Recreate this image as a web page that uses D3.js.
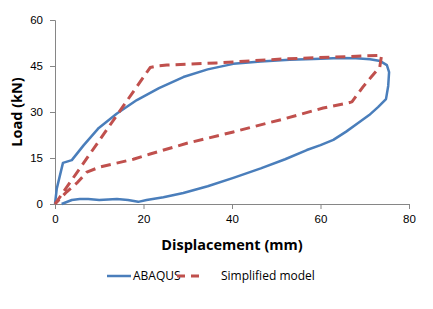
<!DOCTYPE html>
<html>
<head>
<meta charset="utf-8">
<script src="https://cdn.jsdelivr.net/npm/d3@7"></script>
<style>
  body { margin: 0; background: #fff; }
  svg { font-family: "Open Sans", "Liberation Sans", sans-serif; }
</style>
</head>
<body>
<div id="chart"></div>
<script>
// ABAQUS hysteresis loop (displacement mm, load kN)
const abaqusX = [0, 0.4, 1.8, 3.8, 6.5, 9.9, 14, 18.5, 23.5, 29, 34.5, 40.3, 46.5, 53, 58.5, 64.4, 68, 71.2, 73.5, 75, 75.5, 75.3, 74.8, 73, 71, 68.5, 65.8, 62.9, 60, 56.9, 52, 46.5, 40.3, 34.5, 29, 24.5, 20.7, 18.8, 16.5, 14, 10, 7.5, 5.6, 3.8, 1.5];
const abaqusY = [0, 5, 13.4, 14.3, 19.2, 24.8, 29.5, 33.9, 37.8, 41.4, 43.9, 45.7, 46.5, 47, 47.3, 47.6, 47.5, 47.2, 46.6, 45.3, 43, 38.5, 34.2, 31.6, 29, 26.4, 23.6, 20.9, 19.2, 17.6, 14.6, 11.6, 8.5, 5.8, 3.6, 2.2, 1.3, 0.7, 1.3, 1.6, 1.3, 1.6, 1.6, 1.3, 0];

// Simplified model loop
const simpX = [0, 21.5, 23.5, 25.3, 36.5, 51.6, 62.9, 73.8, 73.4, 71.5, 69.6, 67.1, 66, 60.6, 51.6, 40.3, 29.8, 21.5, 17.7, 10.2, 7.2, 4.9, 2.6, 0];
const simpY = [0, 44.5, 45.1, 45.3, 46, 47.3, 47.9, 48.5, 44.7, 41.5, 38.2, 33.3, 32.9, 31.3, 27.7, 23.5, 19.8, 16.3, 14.6, 12.1, 10.4, 6.8, 3.9, 0];

const xTicks = [0, 20, 40, 60, 80];
const yTicks = [0, 15, 30, 45, 60];

const seriesNames = ["ABAQUS", "Simplified model"];
const colors = ["#4A7EBB", "#C0504D"];

const width = 433, height = 309;
const margin = {left: 55, right: 24, top: 20, bottom: 105};

const scaleX = d3.scaleLinear()
    .domain([0, 80])
    .range([margin.left, width - margin.right]);

const scaleY = d3.scaleLinear()
    .domain([0, 60])
    .range([height - margin.bottom, margin.top]);

const svg = d3.select("#chart")
    .append("svg")
    .attr("width", width)
    .attr("height", height);

const xAxis = d3.axisBottom(scaleX).tickValues(xTicks).tickSize(5).tickPadding(6);
const yAxis = d3.axisLeft(scaleY).tickValues(yTicks).tickSize(5).tickPadding(7);

const gx = svg.append("g")
    .attr("transform", "translate(0," + scaleY(0) + ")")
    .call(xAxis);
const gy = svg.append("g")
    .attr("transform", "translate(" + scaleX(0) + ",0)")
    .call(yAxis);

[gx, gy].forEach(g => {
    g.select(".domain").attr("stroke", "#868686");
    g.selectAll(".tick line").attr("stroke", "#868686");
    g.selectAll(".tick text").attr("fill", "#000").attr("font-size", "11.5px");
});

const line = d3.line()
    .x(d => scaleX(d[0]))
    .y(d => scaleY(d[1]));

const abaqus = abaqusX.map((x, i) => [x, abaqusY[i]]);
const simp = simpX.map((x, i) => [x, simpY[i]]);

svg.append("path")
    .datum(abaqus)
    .attr("d", line)
    .attr("fill", "none")
    .attr("stroke", colors[0])
    .attr("stroke-width", 2.5)
    .attr("stroke-linejoin", "round");

svg.append("path")
    .datum(simp)
    .attr("d", line)
    .attr("fill", "none")
    .attr("stroke", colors[1])
    .attr("stroke-width", 3)
    .attr("stroke-dasharray", "10,6")
    .attr("stroke-linejoin", "round");

// axis titles
svg.append("text")
    .attr("x", (scaleX(0) + scaleX(80)) / 2)
    .attr("y", 250)
    .attr("text-anchor", "middle")
    .attr("font-weight", "bold")
    .attr("font-size", "14.5px")
    .text("Displacement (mm)");

svg.append("text")
    .attr("transform", "translate(22," + scaleY(30) + ") rotate(-90)")
    .attr("text-anchor", "middle")
    .attr("font-weight", "bold")
    .attr("font-size", "14.5px")
    .text("Load (kN)");

// legend
const legend = svg.append("g").attr("transform", "translate(0,276)");
legend.append("line")
    .attr("x1", 107).attr("x2", 131).attr("y1", 0).attr("y2", 0)
    .attr("stroke", colors[0]).attr("stroke-width", 2.5);
legend.append("text")
    .attr("x", 133).attr("y", 4).attr("font-size", "12px")
    .text(seriesNames[0]);
legend.append("line")
    .attr("x1", 177).attr("x2", 201).attr("y1", 0).attr("y2", 0)
    .attr("stroke", colors[1]).attr("stroke-width", 3)
    .attr("stroke-dasharray", "8,6");
legend.append("text")
    .attr("x", 221).attr("y", 4).attr("font-size", "12px")
    .text(seriesNames[1]);
</script>
</body>
</html>
